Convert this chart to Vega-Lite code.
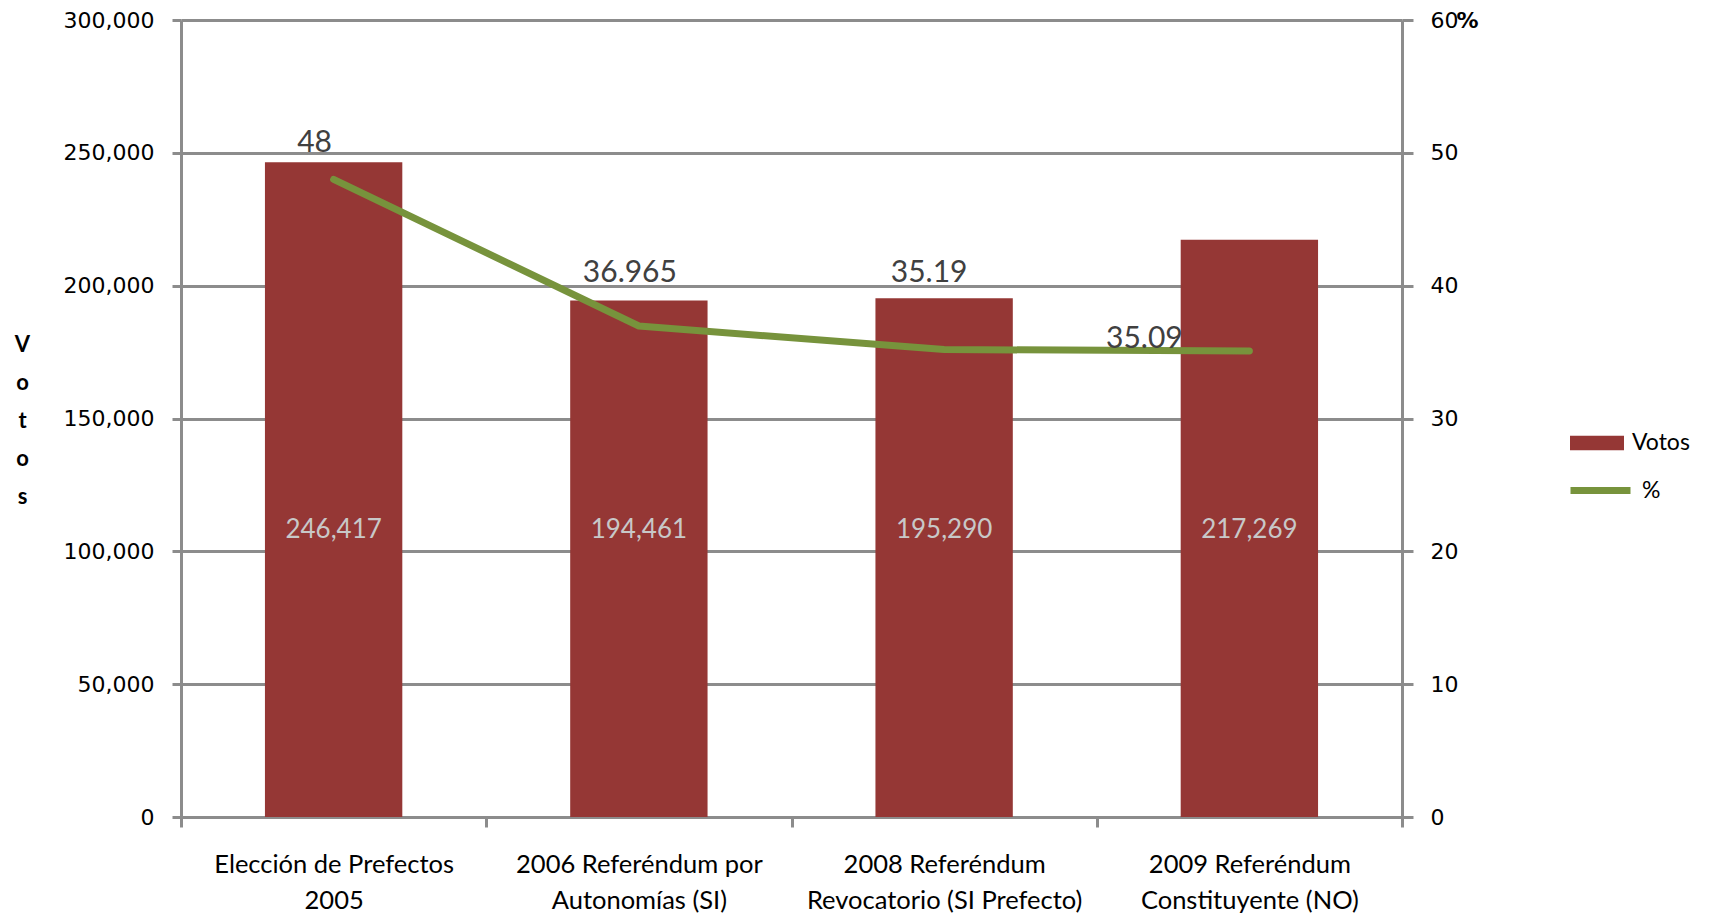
{
  "$schema": "https://vega.github.io/schema/vega-lite/v6.json",
  "width": 1221,
  "height": 797,
  "autosize": {"type": "none"},
  "padding": {"left": 181, "top": 20, "right": 310, "bottom": 98},
  "background": "white",
  "config": {"view": {"stroke": null}},
  "data": {
    "values": [
      {"cat": "Elección de Prefectos|2005", "votos": 246417, "pct": 48, "pctLabel": "48"},
      {"cat": "2006 Referéndum por|Autonomías (SI)", "votos": 194461, "pct": 36.965, "pctLabel": "36.965"},
      {"cat": "2008 Referéndum|Revocatorio (SI Prefecto)", "votos": 195290, "pct": 35.19, "pctLabel": "35.19"},
      {"cat": "2009 Referéndum|Constituyente (NO)", "votos": 217269, "pct": 35.09, "pctLabel": "35.09"}
    ]
  },
  "encoding": {
    "x": {
      "field": "cat",
      "type": "nominal",
      "sort": null,
      "scale": {"paddingInner": 0, "paddingOuter": 0},
      "axis": {
        "title": null,
        "labelAngle": 0,
        "labelExpr": "split(datum.label, '|')",
        "labelFont": "Lato",
        "labelFontSize": 25.5,
        "labelLineHeight": 36,
        "labelColor": "#000000",
        "labelPadding": 25,
        "labelLimit": 400,
        "tickBand": "extent",
        "tickSize": 10,
        "tickWidth": 3,
        "tickColor": "#8c8c8c",
        "domainColor": "#8c8c8c",
        "domainWidth": 3
      }
    }
  },
  "layer": [
    {
      "layer": [
        {
          "mark": {"type": "bar", "width": {"band": 0.45}},
          "encoding": {
            "y": {
              "field": "votos",
              "type": "quantitative",
              "scale": {"domain": [0, 300000], "nice": false},
              "axis": {
                "orient": "left",
                "values": [0, 50000, 100000, 150000, 200000, 250000, 300000],
                "labelExpr": "format(datum.value, ',')",
                "grid": true,
                "gridColor": "#8c8c8c",
                "gridWidth": 3,
                "domainColor": "#8c8c8c",
                "domainWidth": 3,
                "tickColor": "#8c8c8c",
                "tickWidth": 3,
                "tickSize": 9,
                "labelPadding": 18,
                "labelFont": "DejaVu Sans",
                "labelFontSize": 22,
                "labelColor": "#000000",
                "title": ["V", "o", "t", "o", "s"],
                "titleAngle": 0,
                "titleX": -159,
                "titleY": 314,
                "titleBaseline": "top",
                "titleAlign": "center",
                "titleFont": "Lato",
                "titleFontSize": 22,
                "titleFontWeight": "bold",
                "titleLineHeight": 38,
                "titleColor": "#000000"
              }
            },
            "fill": {
              "datum": "Votos",
              "scale": {"range": ["#953735"]},
              "legend": {
                "orient": "none",
                "legendX": 1389,
                "legendY": 396,
                "title": null,
                "symbolType": "M-1,-0.27H1V0.27H-1Z",
                "symbolSize": 2916,
                "symbolStrokeWidth": 0,
                "labelFont": "Lato",
                "labelFontSize": 23,
                "labelColor": "#000000",
                "labelOffset": 8
              }
            }
          }
        },
        {
          "mark": {"type": "text", "font": "Lato", "fontSize": 26, "color": "#c8c8c8", "baseline": "middle"},
          "encoding": {
            "y": {"datum": 108000, "type": "quantitative"},
            "text": {"field": "votos", "type": "quantitative", "format": ","}
          }
        }
      ]
    },
    {
      "layer": [
        {
          "mark": {"type": "line", "strokeWidth": 7, "strokeCap": "round", "strokeJoin": "round"},
          "encoding": {
            "y": {
              "field": "pct",
              "type": "quantitative",
              "scale": {"domain": [0, 60], "nice": false},
              "axis": {
                "orient": "right",
                "values": [0, 10, 20, 30, 40, 50, 60],
                "grid": false,
                "domainColor": "#8c8c8c",
                "domainWidth": 3,
                "tickColor": "#8c8c8c",
                "tickWidth": 3,
                "tickSize": 11,
                "labelPadding": 17,
                "labelFont": "DejaVu Sans",
                "labelFontSize": 22,
                "labelColor": "#000000",
                "title": "%",
                "titleAngle": 0,
                "titleX": 65,
                "titleY": 0,
                "titleBaseline": "middle",
                "titleAlign": "center",
                "titleFont": "DejaVu Sans",
                "titleFontSize": 22,
                "titleFontWeight": "bold",
                "titleColor": "#000000"
              }
            },
            "stroke": {
              "datum": "%",
              "scale": {"range": ["#77933C"]},
              "legend": {
                "orient": "none",
                "legendX": 1386,
                "legendY": 437,
                "title": null,
                "symbolType": "stroke",
                "symbolSize": 3600,
                "symbolStrokeWidth": 7,
                "labelFont": "Lato",
                "labelFontSize": 23,
                "labelColor": "#000000",
                "labelOffset": 8
              }
            }
          }
        },
        {
          "transform": [{"filter": "datum.pctLabel == '48'"}],
          "mark": {"type": "text", "font": "Lato", "fontSize": 30, "color": "#404040", "baseline": "middle", "dx": -19, "dy": -36},
          "encoding": {"y": {"field": "pct", "type": "quantitative"}, "text": {"field": "pctLabel"}}
        },
        {
          "transform": [{"filter": "datum.pctLabel == '36.965'"}],
          "mark": {"type": "text", "font": "Lato", "fontSize": 30, "color": "#404040", "baseline": "middle", "dx": -9, "dy": -53},
          "encoding": {"y": {"field": "pct", "type": "quantitative"}, "text": {"field": "pctLabel"}}
        },
        {
          "transform": [{"filter": "datum.pctLabel == '35.19'"}],
          "mark": {"type": "text", "font": "Lato", "fontSize": 30, "color": "#404040", "baseline": "middle", "dx": -15, "dy": -77},
          "encoding": {"y": {"field": "pct", "type": "quantitative"}, "text": {"field": "pctLabel"}}
        },
        {
          "transform": [{"filter": "datum.pctLabel == '35.09'"}],
          "mark": {"type": "text", "font": "Lato", "fontSize": 30, "color": "#404040", "baseline": "middle", "dx": -105, "dy": -12},
          "encoding": {"y": {"field": "pct", "type": "quantitative"}, "text": {"field": "pctLabel"}}
        }
      ]
    }
  ],
  "resolve": {"scale": {"y": "independent"}}
}
